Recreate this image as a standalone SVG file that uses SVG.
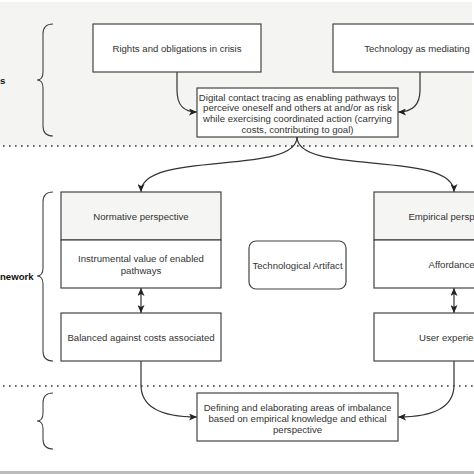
<svg xmlns="http://www.w3.org/2000/svg" width="474" height="474" viewBox="0 0 474 474">
<defs>
<style>
.box{fill:#fff;stroke:#444;stroke-width:1.2}
.hdr{fill:#f5f5f3;stroke:#444;stroke-width:1.2}
.t{font-family:"Liberation Sans",Arial,sans-serif;font-size:9.6px;fill:#333;text-anchor:middle}
.lbl{font-family:"Liberation Sans",Arial,sans-serif;font-size:9.6px;font-weight:bold;fill:#111}
.edge{fill:none;stroke:#333;stroke-width:1.2}
.brace{fill:none;stroke:#444;stroke-width:1.1}
.dots{stroke:#333;stroke-width:1.6;stroke-dasharray:1.6 4.4}
</style>
<marker id="ah" viewBox="0 0 8 7" markerWidth="8" markerHeight="7" refX="8" refY="3.5" orient="auto-start-reverse" markerUnits="userSpaceOnUse">
<path d="M0,0 L8,3.5 L0,7 L2,3.5 z" fill="#222"/>
</marker>
</defs>
<rect x="0" y="0" width="474" height="474" fill="#fff"/>
<rect x="0" y="2" width="472" height="144" fill="#f4f4f3"/>
<rect x="0" y="471" width="474" height="3" fill="#bcbcbc"/>

<g id="labels">
<text class="lbl" x="0" y="83.5">s</text>
<text class="lbl" x="0" y="279.5">nework</text>
</g>

<g id="braces">
<path class="brace" d="M53,24 Q43,24 43,34 L43,72 Q43,80 37,80 Q43,80 43,88 L43,126 Q43,136 53,136"/>
<path class="brace" d="M53,192 Q43,192 43,202 L43,268 Q43,276 37,276 Q43,276 43,284 L43,351 Q43,361 53,361"/>
<path class="brace" d="M53,393 Q43,393 43,403 L43,413 Q43,421 37,421 Q43,421 43,429 L43,439 Q43,449 53,449"/>
</g>

<g id="separators">
<line class="dots" x1="3" y1="146" x2="474" y2="146"/>
<line class="dots" x1="3" y1="386" x2="474" y2="386"/>
</g>

<g id="connectors">
<path class="edge" marker-end="url(#ah)" d="M177,72 L177,90 C177,106 184,112 197,112"/>
<path class="edge" marker-end="url(#ah)" d="M420,72 L420,90 C420,106 412,112 398,112"/>
<path class="edge" marker-end="url(#ah)" d="M297,137 C297,176 141,150 141,192"/>
<path class="edge" marker-end="url(#ah)" d="M297,137 C297,176 454,150 454,192"/>
<path class="edge" marker-start="url(#ah)" marker-end="url(#ah)" d="M141,288 L141,313"/>
<path class="edge" marker-start="url(#ah)" marker-end="url(#ah)" d="M454,288 L454,313"/>
<path class="edge" marker-end="url(#ah)" d="M141,361 L141,385 C141,406 160,417 197,417"/>
<path class="edge" marker-end="url(#ah)" d="M454,361 L454,385 C454,406 435,417 398,417"/>
</g>

<g id="rights">
<rect class="box" x="93" y="24" width="168" height="48"/>
<text class="t" x="177" y="51.5">Rights and obligations in crisis</text>
</g>

<g id="technology">
<rect class="box" x="333" y="24" width="168" height="48"/>
<text class="t" x="417" y="51.5">Technology as mediating</text>
</g>

<g id="contact-tracing">
<rect class="box" x="197" y="88" width="201" height="49"/>
<text class="t" x="297.5" y="100.5">Digital contact tracing as enabling pathways to</text>
<text class="t" x="297.5" y="111.2">perceive oneself and others at and/or as risk</text>
<text class="t" x="297.5" y="121.9">while exercising coordinated action (carrying</text>
<text class="t" x="297.5" y="132.6">costs, contributing to goal)</text>
</g>

<g id="normative">
<rect class="hdr" x="61" y="192" width="160" height="48"/>
<rect class="box" x="61" y="240" width="160" height="48"/>
<text class="t" x="141" y="219.5">Normative perspective</text>
<text class="t" x="141" y="262">Instrumental value of enabled</text>
<text class="t" x="141" y="274">pathways</text>
</g>

<g id="artifact">
<rect class="box" x="249" y="241" width="97" height="48" rx="7"/>
<text class="t" x="297.5" y="268.5">Technological Artifact</text>
</g>

<g id="empirical">
<rect class="hdr" x="374" y="192" width="160" height="48"/>
<rect class="box" x="374" y="240" width="160" height="48"/>
<text class="t" x="454" y="219.5">Empirical perspective</text>
<text class="t" x="454" y="268">Affordances</text>
</g>

<g id="balanced">
<rect class="box" x="61" y="313" width="160" height="48"/>
<text class="t" x="141" y="340.5">Balanced against costs associated</text>
</g>

<g id="user-experience">
<rect class="box" x="374" y="313" width="160" height="48"/>
<text class="t" x="454" y="340.5">User experience</text>
</g>

<g id="imbalance">
<rect class="box" x="197" y="393" width="201" height="48"/>
<text class="t" x="297.5" y="410.5">Defining and elaborating areas of imbalance</text>
<text class="t" x="297.5" y="421.5">based on empirical knowledge and ethical</text>
<text class="t" x="297.5" y="432.5">perspective</text>
</g>
</svg>
